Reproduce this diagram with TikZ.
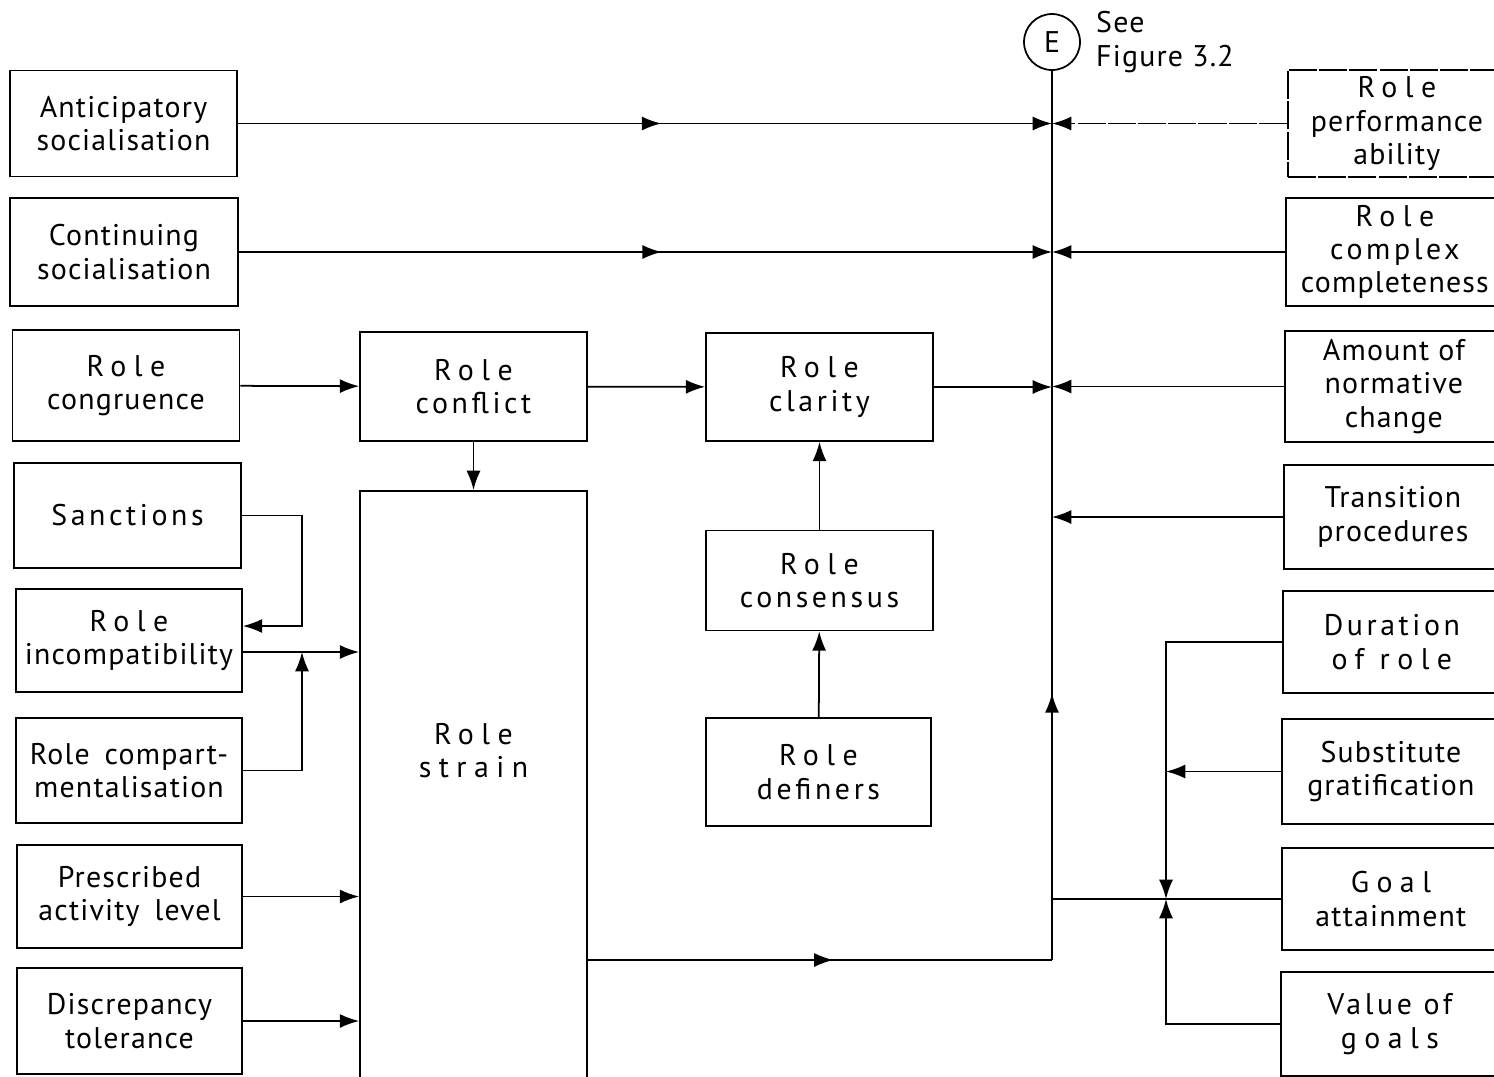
\documentclass[tikz,border=0pt]{standalone}
\usepackage{fontspec}
\setmainfont{PT Sans}[LetterSpace=4]
\newfontfamily\wide{PT Sans}[LetterSpace=25]
\newfontfamily\semi{PT Sans}[LetterSpace=12]
\usetikzlibrary{arrows.meta,decorations.markings}

\begin{document}
\begin{tikzpicture}[x=0.02cm, y=-0.02cm,
  box/.style={draw, line width=1pt, align=center, inner sep=2pt, minimum width=4.54cm, minimum height=2.12cm, font=\fontsize{17}{19}\selectfont},
  rbox/.style={box, anchor=west, minimum width=4.36cm},
  faint/.style={dash pattern=on 16pt off 1.2pt},
  link/.style={line width=1pt},
  arr/.style={link, -{Latex[length=11pt,width=8pt]}},
  midarr/.style={postaction={decorate}, decoration={markings, mark=at position #1 with {\arrow{Latex[length=11pt,width=8pt]}}}}
]
\useasboundingbox (0,0) rectangle (1494,1076);

% left column
\node[box] (antsoc) at (123.5,123.5) {Anticipatory\\socialisation};
\node[box, minimum width=4.56cm, minimum height=2.16cm] (contsoc) at (124,252) {Continuing\\socialisation};
\node[box, minimum height=2.22cm] (congr) at (126,385.5) {{\wide Role}\\congruence};
\node[box, minimum height=2.1cm] (sanct) at (127.5,515.5) {{\semi Sanctions}};
\node[box, minimum width=4.52cm, minimum height=2.06cm] (incomp) at (129,640.5) {{\wide Role}\\incompatibility};
\node[box, minimum width=4.52cm, minimum height=2.1cm] (compart) at (129,770.5) {Role\enspace compart-\\mentalisation};
\node[box, minimum width=4.5cm, minimum height=2.06cm] (presc) at (129.5,896.5) {Prescribed\\activity\enspace level};
\node[box, minimum width=4.5cm, minimum height=2.12cm] (discr) at (129.5,1021) {Discrepancy\\tolerance};

% middle
\node[box, minimum height=2.18cm] (conflict) at (473.5,386.5) {{\wide Role}\\{\semi conflict}};
\node[box, anchor=north, minimum height=11.9cm,
  label={[align=center, font=\fontsize{17}{19}\selectfont, yshift=0.76cm]center:{\wide Role}\\{\wide strain}}] (strain) at (473.5,490) {};
\node[box, minimum height=2.16cm] (clarity) at (819.5,387) {{\wide Role}\\{\semi clarity}};
\node[box, minimum height=2cm] (consensus) at (819.5,580.5) {{\wide Role}\\{\semi consensus}};
\node[box, minimum width=4.5cm, minimum height=2.16cm] (definers) at (818.5,772) {{\wide Role}\\{\semi definers}};

% right column
\node[rbox, faint, minimum height=2.14cm] (rpa) at (1287,123.5) {{\wide Role}\\performance\\ability};
\node[rbox, minimum height=2.16cm] (rcc) at (1285,252) {{\wide Role}\\{\semi complex}\\completeness};
\node[rbox, minimum height=2.22cm] (anc) at (1284,386.5) {Amount of\\normative\\change};
\node[rbox, minimum height=2.08cm] (tp) at (1283,517) {Transition\\procedures};
\node[rbox, minimum height=2.04cm] (dor) at (1282,642) {{\semi Duration}\\{\wide of role}};
\node[rbox, minimum height=2.1cm] (sg) at (1281,771.5) {Substitute\\gratification};
\node[rbox, minimum height=2.04cm] (ga) at (1281,899) {{\wide Goal}\\attainment};
\node[rbox, minimum height=2.08cm] (vog) at (1280,1024) {{\semi Value of}\\{\wide goals}};

% connector E
\node[circle, draw, link, minimum size=1.12cm, inner sep=0pt, font=\fontsize{17}{19}\selectfont] (E) at (1052,42) {E};
\node[anchor=west, align=left, inner sep=0pt, font=\fontsize{17}{19}\selectfont] (see) at ([xshift=0.3cm]E.east) {See\\Figure 3.2};

% into the trunk
\draw[arr, midarr=0.52] (antsoc) -- (antsoc -| E);
\draw[arr, faint] (rpa) -- (rpa -| E);
\draw[arr, midarr=0.52] (contsoc) -- (contsoc -| E);
\draw[arr] (rcc) -- (rcc -| E);
\draw[arr] (congr) -- (conflict);
\draw[arr] (conflict) -- (clarity);
\draw[arr] (clarity) -- (clarity -| E);
\draw[arr] (anc) -- (anc -| E);
\draw[arr] (tp) -- (tp -| E);
\draw[arr] (conflict) -- (strain);
\draw[arr] (consensus) -- (clarity);
\draw[arr] (definers) -- (consensus);

% left loops
\coordinate (sloop) at (302,626);
\coordinate (jn) at (302,652);
\draw[arr] (sanct.east) -| (sloop) -- (sloop -| incomp.east);
\draw[arr] (jn -| incomp.east) -- (jn -| strain.west);
\draw[arr] (compart.east) -| (jn);
\draw[arr] (presc) -- (presc -| strain.west);
\draw[arr] (discr) -- (discr -| strain.west);

% role strain out and trunk
\coordinate (sout) at (587,960);
\draw[link, midarr=0.53] (sout) -- (sout -| E);
\draw[link, midarr=0.3] (sout -| E) -- (E);

% goal loops
\coordinate (gj) at (1166,899);
\draw[link] (ga) -- (ga -| E);
\draw[arr] (dor.west) -| (gj);
\draw[arr] (vog.west) -| (gj);
\draw[arr] (sg) -- (sg -| gj);
\end{tikzpicture}
\end{document}
